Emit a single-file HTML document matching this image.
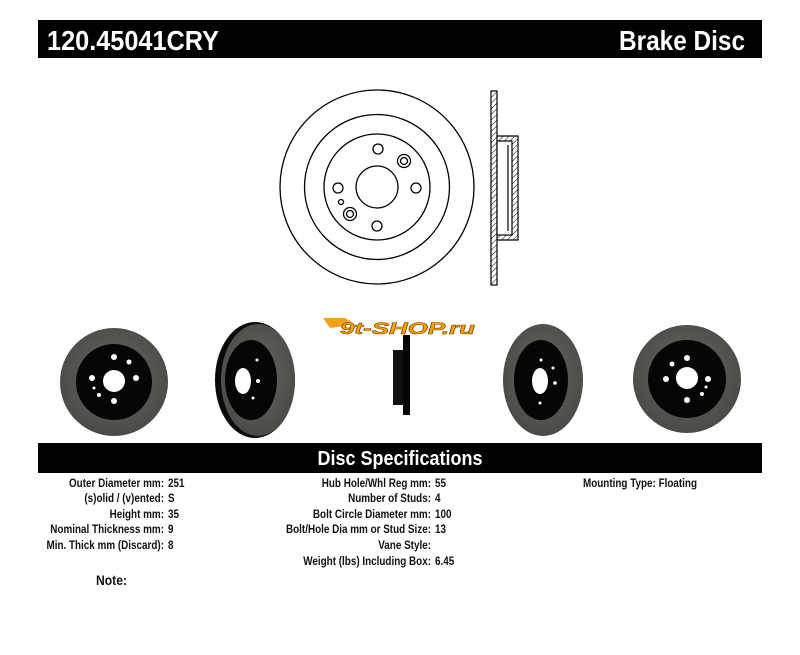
<!DOCTYPE html>
<html><head><meta charset="utf-8"><style>
html,body{margin:0;padding:0;background:#fff;width:800px;height:655px;overflow:hidden}
svg{display:block}
text{font-family:"Liberation Sans",Arial,sans-serif;font-weight:bold}
</style></head><body>
<svg width="800" height="655" viewBox="0 0 800 655" xmlns="http://www.w3.org/2000/svg">
<defs>
<pattern id="h" width="4" height="4" patternUnits="userSpaceOnUse" patternTransform="rotate(45)">
<line x1="0" y1="0" x2="0" y2="4" stroke="#000" stroke-width="1"/></pattern>
<radialGradient id="g" cx="50%" cy="45%" r="55%"><stop offset="0" stop-color="#6a6a64"/><stop offset="1" stop-color="#4a4a46"/></radialGradient>
</defs>
<rect x="38" y="20" width="724" height="38" fill="#000"/>
<text x="47" y="50" fill="#fff" font-size="28" textLength="172" lengthAdjust="spacingAndGlyphs">120.45041CRY</text>
<text x="745" y="50" fill="#fff" font-size="28" text-anchor="end" textLength="126" lengthAdjust="spacingAndGlyphs">Brake Disc</text>

<g fill="none" stroke="#000" stroke-width="1.3">
<circle cx="377" cy="187" r="97"/>
<circle cx="377" cy="187" r="72.5"/>
<circle cx="377" cy="187" r="53"/>
<circle cx="377" cy="187" r="21"/>
<circle cx="378" cy="149" r="5"/>
<circle cx="416" cy="188" r="5"/>
<circle cx="377" cy="226" r="5"/>
<circle cx="338" cy="188" r="5"/>
<circle cx="404" cy="161" r="6.5"/><circle cx="404" cy="161" r="3.5"/>
<circle cx="350" cy="214" r="6.5"/><circle cx="350" cy="214" r="3.5"/>
<circle cx="341" cy="202" r="2.5"/>
</g>
<g stroke="#000" stroke-width="1.2">
<rect x="491" y="91" width="6" height="194" fill="url(#h)"/>
<path d="M497 136 H518 V240 H497" fill="url(#h)"/>
<rect x="497" y="141" width="15" height="94" fill="#fff"/>
<line x1="508" y1="145" x2="508" y2="231"/>
</g>

<circle cx="114" cy="382" r="54" fill="url(#g)"/>
<circle cx="114" cy="382" r="38" fill="#050505"/>
<circle cx="114" cy="381" r="11" fill="#fff"/>
<g fill="#fff"><circle cx="114" cy="357" r="3"/><circle cx="129" cy="362" r="2.5"/><circle cx="136" cy="378" r="3"/><circle cx="92" cy="378" r="3"/><circle cx="114" cy="401" r="3"/><circle cx="99" cy="395" r="2"/><circle cx="94" cy="388" r="1.5"/></g>

<ellipse cx="255" cy="380" rx="40" ry="58" fill="#0a0a0a"/>
<ellipse cx="258" cy="380" rx="37" ry="56" fill="url(#g)"/>
<ellipse cx="251" cy="380" rx="26" ry="40" fill="#050505"/>
<ellipse cx="243" cy="381" rx="8" ry="13" fill="#fff"/>
<g fill="#fff"><circle cx="257" cy="360" r="1.5"/><circle cx="258" cy="381" r="2"/><circle cx="253" cy="398" r="1.5"/></g>

<ellipse cx="543" cy="380" rx="40" ry="56" fill="url(#g)"/>
<ellipse cx="541" cy="380" rx="27" ry="40" fill="#050505"/>
<ellipse cx="540" cy="381" rx="8" ry="13" fill="#fff"/>
<g fill="#fff"><circle cx="541" cy="360" r="1.5"/><circle cx="553" cy="368" r="1.5"/><circle cx="555" cy="383" r="1.8"/><circle cx="540" cy="403" r="1.5"/></g>

<circle cx="687" cy="379" r="54" fill="url(#g)"/>
<circle cx="687" cy="379" r="39" fill="#050505"/>
<circle cx="687" cy="378" r="11" fill="#fff"/>
<g fill="#fff"><circle cx="687" cy="358" r="3"/><circle cx="672" cy="364" r="2.5"/><circle cx="666" cy="379" r="3"/><circle cx="708" cy="379" r="3"/><circle cx="687" cy="400" r="3"/><circle cx="702" cy="394" r="2"/><circle cx="706" cy="387" r="1.5"/></g>

<rect x="393" y="350" width="10" height="55" fill="#111"/>
<rect x="403" y="335" width="7" height="80" fill="#050505"/>

<path d="M323 318 L345 318 L352 322 L345 326 L330 328 Z" fill="#f2a020"/>
<text x="340" y="334" font-size="17" fill="#f7a400" stroke="#8a4500" stroke-width="0.6" font-style="italic" textLength="135" lengthAdjust="spacingAndGlyphs">9t-SHOP.ru</text>

<rect x="38" y="443" width="724" height="30" fill="#000"/>
<text x="400" y="465" fill="#fff" font-size="20" text-anchor="middle" textLength="165" lengthAdjust="spacingAndGlyphs">Disc Specifications</text>

<g font-size="11.5" fill="#111">
<g transform="translate(164,0) scale(0.86,1)" text-anchor="end">
<text x="0" y="487">Outer Diameter mm:</text>
<text x="0" y="502">(s)olid / (v)ented:</text>
<text x="0" y="518">Height mm:</text>
<text x="0" y="533">Nominal Thickness mm:</text>
<text x="0" y="549">Min. Thick mm (Discard):</text>
</g>
<g transform="translate(431,0) scale(0.86,1)" text-anchor="end">
<text x="0" y="487">Hub Hole/Whl Reg mm:</text>
<text x="0" y="502">Number of Studs:</text>
<text x="0" y="518">Bolt Circle Diameter mm:</text>
<text x="0" y="533">Bolt/Hole Dia mm or Stud Size:</text>
<text x="0" y="549">Vane Style:</text>
<text x="0" y="565">Weight (lbs) Including Box:</text>
</g>
<g transform="translate(168,0) scale(0.86,1)">
<text x="0" y="487">251</text><text x="0" y="502">S</text><text x="0" y="518">35</text><text x="0" y="533">9</text><text x="0" y="549">8</text>
</g>
<g transform="translate(435,0) scale(0.86,1)">
<text x="0" y="487">55</text><text x="0" y="502">4</text><text x="0" y="518">100</text><text x="0" y="533">13</text><text x="0" y="565">6.45</text>
</g>
<g transform="translate(583,0) scale(0.86,1)">
<text x="0" y="487">Mounting Type: Floating</text>
</g>
<g transform="translate(96,0) scale(0.9,1)">
<text x="0" y="585" font-size="13.5">Note:</text>
</g>
</g>
</svg>
</body></html>
